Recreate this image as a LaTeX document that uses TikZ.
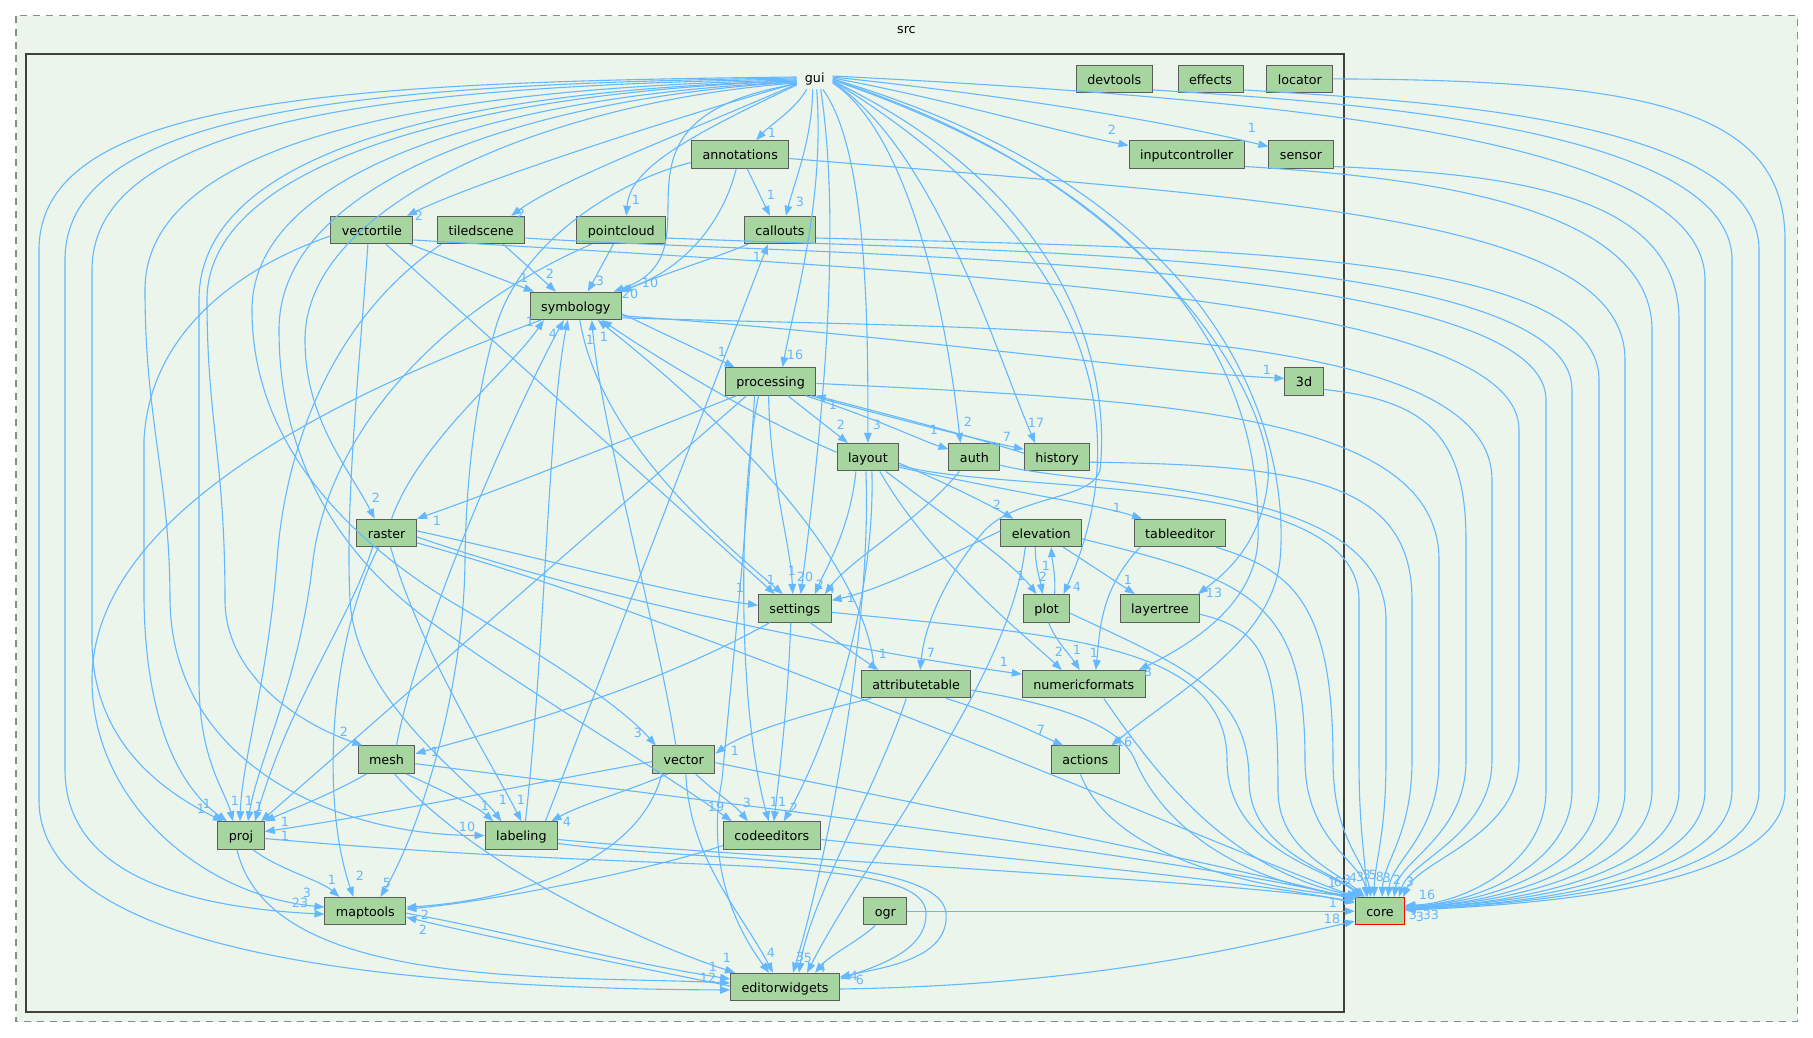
\documentclass[tikz,border=0pt]{standalone}
\usepackage{fontspec}
\setmainfont{DejaVu Sans}
\usetikzlibrary{arrows.meta}
\definecolor{edgec}{HTML}{63B8FF}
\definecolor{nodefill}{HTML}{A6D5A0}
\definecolor{clfill}{HTML}{ECF5EB}
\definecolor{nodeline}{HTML}{5C5C5C}
\definecolor{clline}{HTML}{404040}
\begin{document}
\begin{tikzpicture}[x=1pt,y=-1pt,
  box/.style={draw=nodeline, fill=nodefill, line width=1pt, minimum height=27.5pt, inner xsep=11pt, inner ysep=0pt, font=\fontsize{12.7pt}{15pt}\selectfont, text height=11.2pt, text depth=0.8pt},
  e/.style={draw=edgec, line width=1.1pt, -{Triangle[length=10pt,width=7.5pt]}},
  lbl/.style={text=edgec, font=\fontsize{12.7pt}{15pt}\selectfont, inner sep=0pt},
  plain/.style={font=\fontsize{12.7pt}{15pt}\selectfont, inner xsep=8pt, inner ysep=4pt}]
\useasboundingbox (0,0) rectangle (1813,1038);
% clusters
\draw[draw=gray!90, fill=clfill, line width=1.4pt, dash pattern=on 7pt off 6pt] (15.8,15.7) rectangle (1797.5,1021.7);
\node[plain] (srclabel) at (906.4,30) {src};
\draw[draw=clline, fill=clfill, line width=2pt] (26.1,54) rectangle (1343.9,1011.7);
% nodes
\node[plain] (gui) at (814.7,79) {gui};
\node[box] (devtools) at (1114.3,78.9) {devtools};
\node[box] (effects) at (1210.6,78.9) {effects};
\node[box] (locator) at (1299.9,78.9) {locator};
\node[box] (annotations) at (740.2,154.5) {annotations};
\node[box] (inputcontroller) at (1186.7,154.5) {inputcontroller};
\node[box] (sensor) at (1301,154.5) {sensor};
\node[box] (vectortile) at (371.9,230) {vectortile};
\node[box] (tiledscene) at (481.2,230) {tiledscene};
\node[box] (pointcloud) at (621.3,230) {pointcloud};
\node[box] (callouts) at (779.9,230) {callouts};
\node[box] (symbology) at (575.8,305.8) {symbology};
\node[box] (processing) at (770.6,381.4) {processing};
\node[box] (threed) at (1304,381.4) {3d};
\node[box] (layout) at (867.9,457.2) {layout};
\node[box] (auth) at (974.4,457.2) {auth};
\node[box] (history) at (1057.1,457.2) {history};
\node[box] (raster) at (386.6,532.9) {raster};
\node[box] (elevation) at (1041.3,532.9) {elevation};
\node[box] (tableeditor) at (1180,532.9) {tableeditor};
\node[box] (settings) at (794.8,608.3) {settings};
\node[box] (plot) at (1046.6,608.3) {plot};
\node[box] (layertree) at (1159.9,608.3) {layertree};
\node[box] (attributetable) at (916.2,684.2) {attributetable};
\node[box] (numericformats) at (1083.8,684.2) {numericformats};
\node[box] (mesh) at (386.5,759.7) {mesh};
\node[box] (vector) at (683.8,759.7) {vector};
\node[box] (actions) at (1085.3,759.7) {actions};
\node[box] (proj) at (241,835.5) {proj};
\node[box] (labeling) at (521.4,835.5) {labeling};
\node[box] (codeeditors) at (771.8,835.5) {codeeditors};
\node[box] (maptools) at (365.4,911.2) {maptools};
\node[box] (ogr) at (885.3,911.2) {ogr};
\node[box, draw=red] (core) at (1380,911.2) {core};
\node[box] (editorwidgets) at (785,987) {editorwidgets};

% ---------- gui: left lanes
\draw[e] ([yshift=2pt]gui.west) .. controls (330,82) and (39,100) .. (39,250) -- (39,800) .. controls (39,940) and (330,988) .. ([yshift=-3pt]editorwidgets.west);
\draw[e] ([yshift=1pt]gui.west) .. controls (360,84) and (65,110) .. (65,260) -- (65,770) .. controls (65,880) and (200,908) .. ([yshift=-3pt]maptools.west);
\draw[e] (gui.west) .. controls (390,86) and (92,120) .. (92,270) -- (92,640) .. controls (92,740) and (160,790) .. ([xshift=-18pt]proj.north);
\draw[e] ([yshift=-1pt]gui.west) .. controls (430,88) and (145,140) .. (145,290) .. controls (145,420) and (170,480) .. (170,600) .. controls (172,760) and (330,835) .. (labeling.west);
\draw[e] ([yshift=-2pt]gui.west) .. controls (460,90) and (199,150) .. (199,300) -- (199,680) .. controls (199,760) and (225,790) .. ([xshift=-8pt]proj.north);
\draw[e] ([yshift=-2pt]gui.west) .. controls (480,92) and (207,160) .. (207,300) .. controls (207,420) and (225,460) .. (225,600) .. controls (225,670) and (290,720) .. ([xshift=-24pt]mesh.north);
\draw[e] ([yshift=-3pt]gui.west) .. controls (500,95) and (252,170) .. (252,310) .. controls (252,430) and (330,530) .. (460,607) .. controls (550,660) and (620,705) .. ([xshift=-28pt]vector.north);
\draw[e] ([yshift=-3pt]gui.west) .. controls (530,98) and (279,180) .. (279,330) .. controls (279,470) and (350,565) .. (435,625) .. controls (540,700) and (660,770) .. ([xshift=-40pt]codeeditors.north);
\draw[e] ([yshift=-4pt]gui.west) .. controls (560,100) and (305,200) .. (305,340) .. controls (305,420) and (350,470) .. ([xshift=-12pt]raster.north);
% ---------- gui: direct
\draw[e] ([yshift=-4pt]gui.west) .. controls (650,125) and (470,185) .. ([xshift=35pt]vectortile.north);
\draw[e] ([yshift=-5pt]gui.west) .. controls (680,135) and (560,180) .. ([xshift=30pt]tiledscene.north);
\draw[e] ([yshift=-6pt]gui.west) .. controls (680,140) and (630,170) .. ([xshift=5pt]pointcloud.north);
\draw[e] ([xshift=-8pt]gui.south) .. controls (795,110) and (770,125) .. ([xshift=16pt]annotations.north);
\draw[e] ([xshift=-2pt]gui.south) .. controls (812,140) and (795,180) .. ([xshift=6pt]callouts.north);
\draw[e] ([yshift=-5pt]gui.west) .. controls (580,120) and (730,250) .. ([xshift=38pt]symbology.north);
\draw[e] ([xshift=2pt]gui.south) .. controls (825,200) and (795,300) .. ([xshift=12pt]processing.north);
\draw[e] ([xshift=6pt]gui.south) .. controls (845,250) and (815,480) .. ([xshift=6pt]settings.north);
\draw[e] ([xshift=8pt]gui.south) .. controls (868,150) and (868,330) .. (layout.north);
\draw[e] ([yshift=-4pt]gui.east) .. controls (905,130) and (945,300) .. ([xshift=-14pt]auth.north);
\draw[e] ([yshift=-3pt]gui.east) .. controls (935,150) and (995,350) .. ([xshift=-22pt]history.north);
\draw[e] ([yshift=-2pt]gui.east) .. controls (1060,220) and (1150,400) .. ([xshift=17pt]plot.north);
\draw[e] ([yshift=-1pt]gui.east) .. controls (1150,180) and (1275,400) .. (1268,480) .. controls (1262,540) and (1230,570) .. ([xshift=38pt]layertree.north);
\draw[e] ([yshift=-1pt]gui.east) .. controls (1180,200) and (1262,380) .. (1258,540) .. controls (1255,600) and (1200,640) .. ([xshift=55pt]numericformats.north);
\draw[e] (gui.east) .. controls (1240,200) and (1290,450) .. (1280,560) .. controls (1272,640) and (1180,690) .. ([xshift=26pt]actions.north);
\draw[e] ([yshift=-2pt]gui.east) .. controls (1080,200) and (1110,380) .. (1100,470) .. controls (1092,500) and (1020,495) .. (985,530) .. controls (950,570) and (925,620) .. ([xshift=4pt]attributetable.north);
\draw[e] ([yshift=1pt]gui.east) .. controls (950,100) and (1050,130) .. ([yshift=9pt]inputcontroller.west);
\draw[e] ([yshift=2pt]gui.east) .. controls (1000,95) and (1150,118) .. ([yshift=8pt]sensor.west);

% ---------- lanes to core (outside the gui cluster)
\draw[e] (locator.east) .. controls (1650,80) and (1785,110) .. (1785,240) -- (1785,790) .. controls (1785,885) and (1550,904) .. ([yshift=1pt]core.east);
\draw[e] ([yshift=-11pt]effects.east) .. controls (1400,100) and (1759,115) .. (1759,250) -- (1759,790) .. controls (1759,882) and (1540,904) .. ([yshift=2pt]core.east);
\draw[e] ([yshift=-11pt]devtools.east) .. controls (1300,100) and (1732,120) .. (1732,260) -- (1732,790) .. controls (1732,880) and (1530,904) .. ([yshift=2pt]core.east);
\draw[e] ([yshift=3pt]gui.east) .. controls (1300,100) and (1705,140) .. (1705,280) -- (1705,790) .. controls (1705,878) and (1520,904) .. ([yshift=3pt]core.east);
\draw[e] ([yshift=-12pt]sensor.east) .. controls (1500,174) and (1679,190) .. (1679,320) -- (1679,790) .. controls (1679,876) and (1510,904) .. ([yshift=3pt]core.east);
\draw[e] ([yshift=-12pt]inputcontroller.east) .. controls (1400,176) and (1652,200) .. (1652,330) -- (1652,790) .. controls (1652,874) and (1500,904) .. ([yshift=4pt]core.east);
\draw[e] ([yshift=-4pt]annotations.east) .. controls (1300,200) and (1625,220) .. (1625,360) -- (1625,790) .. controls (1625,872) and (1490,904) .. ([yshift=4pt]core.east);
\draw[e] ([yshift=-8pt]callouts.east) .. controls (1200,248) and (1599,250) .. (1599,380) -- (1599,790) .. controls (1599,870) and (1480,904) .. ([yshift=5pt]core.east);
\draw[e] ([yshift=-8pt]pointcloud.east) .. controls (1000,252) and (1572,252) .. (1572,390) -- (1572,790) .. controls (1572,868) and (1470,904) .. ([yshift=5pt]core.east);
\draw[e] ([yshift=-8pt]tiledscene.east) .. controls (800,256) and (1546,255) .. (1546,400) -- (1546,790) .. controls (1546,866) and (1460,904) .. ([yshift=6pt]core.east);
\draw[e] ([yshift=-10pt]vectortile.east) .. controls (1000,275) and (1519,300) .. (1519,430) -- (1519,760) .. controls (1519,835) and (1420,860) .. ([xshift=23pt]core.north);
\draw[e] ([yshift=-12pt]symbology.east) .. controls (1000,330) and (1492,320) .. (1492,480) -- (1492,760) .. controls (1492,835) and (1410,860) .. ([xshift=19pt]core.north);
\draw[e] ([yshift=-8pt]threed.east) .. controls (1420,400) and (1466,430) .. (1466,540) -- (1466,760) .. controls (1466,835) and (1400,860) .. ([xshift=14pt]core.north);
\draw[e] ([yshift=-2pt]processing.east) .. controls (1150,400) and (1439,410) .. (1439,560) -- (1439,760) .. controls (1439,835) and (1392,860) .. ([xshift=8pt]core.north);
\draw[e] ([yshift=-5pt]history.east) .. controls (1300,465) and (1412,480) .. (1412,600) -- (1412,760) .. controls (1412,835) and (1384,860) .. ([xshift=2pt]core.north);
\draw[e] ([yshift=-8pt]auth.east) .. controls (1100,490) and (1386,480) .. (1386,620) -- (1386,760) .. controls (1386,835) and (1375,860) .. ([xshift=-6pt]core.north);
\draw[e] ([yshift=-8pt]layout.east) .. controls (1000,495) and (1359,470) .. (1359,600) -- (1359,760) .. controls (1359,835) and (1366,860) .. ([xshift=-14pt]core.north);
% ---------- lanes to core (inside)
\draw[e] ([xshift=36pt]tableeditor.south) .. controls (1290,570) and (1333,600) .. (1333,760) .. controls (1333,840) and (1365,860) .. ([xshift=16pt]core.north west);
\draw[e] ([yshift=-6pt]elevation.east) .. controls (1250,580) and (1305,600) .. (1305,760) .. controls (1305,840) and (1360,860) .. ([xshift=13pt]core.north west);
\draw[e] ([yshift=-6pt]layertree.east) .. controls (1265,630) and (1278,660) .. (1278,790) .. controls (1278,850) and (1335,870) .. ([xshift=10pt]core.north west);
\draw[e] ([yshift=-5pt]plot.east) .. controls (1180,665) and (1249,690) .. (1249,780) .. controls (1249,850) and (1330,870) .. ([xshift=8pt]core.north west);
\draw[e] ([yshift=-4pt]settings.east) .. controls (1050,635) and (1227,640) .. (1227,760) .. controls (1227,850) and (1330,870) .. ([xshift=6pt]core.north west);
\draw[e] ([xshift=20pt]numericformats.south) .. controls (1160,780) and (1230,870) .. ([xshift=5pt]core.north west);
\draw[e] ([xshift=-5pt]actions.south) .. controls (1110,850) and (1230,885) .. ([xshift=3pt]core.north west);
\draw[e] ([yshift=-6pt]attributetable.east) .. controls (1060,705) and (1120,725) .. (1135,760) .. controls (1160,820) and (1230,880) .. ([xshift=4pt]core.north west);
\draw[e] ([yshift=-3pt]vector.east) .. controls (1000,820) and (1250,870) .. ([yshift=-3pt]core.north west);
\draw[e] ([yshift=-4pt]codeeditors.east) .. controls (1000,858) and (1250,880) .. ([yshift=-6pt]core.north west);
\draw[e] ([yshift=-4pt]labeling.east) .. controls (750,858) and (1250,882) .. ([yshift=-5pt]core.north west);
\draw[e] ([yshift=-4pt]mesh.east) .. controls (700,800) and (1200,860) .. ([yshift=-2pt]core.north west);
\draw[e] ([yshift=-10pt]raster.east) .. controls (700,620) and (1250,860) .. ([xshift=2pt]core.north west);
\draw[e] (ogr.east) -- (core.west);
\draw[e] ([yshift=-2pt]editorwidgets.east) .. controls (1100,985) and (1250,945) .. ([yshift=-10pt]core.west);

% ---------- annotations, callouts, pointcloud, tiledscene, vectortile
\draw[e] ([xshift=7pt]annotations.south) -- ([xshift=-10pt]callouts.north);
\draw[e] ([xshift=-4pt]annotations.south) .. controls (725,215) and (690,268) .. ([xshift=43pt]symbology.north);
\draw[e] ([yshift=-8pt]annotations.west) .. controls (620,180) and (520,240) .. (495,330) .. controls (475,400) and (466,480) .. (465,560) .. controls (464,690) and (420,830) .. ([xshift=15pt]maptools.north);
\draw[e] ([xshift=-32pt]callouts.south) .. controls (710,260) and (660,275) .. (symbology.north east);
\draw[e] ([xshift=-8pt]pointcloud.south) -- ([xshift=12pt]symbology.north);
\draw[e] ([xshift=-30pt]pointcloud.south) .. controls (440,310) and (330,430) .. (313,560) .. controls (300,680) and (258,760) .. ([xshift=7pt]proj.north);
\draw[e] ([xshift=22pt]tiledscene.south) -- ([xshift=-20pt]symbology.north);
\draw[e] ([xshift=-40pt]tiledscene.south) .. controls (330,320) and (285,450) .. (277,560) .. controls (268,680) and (242,760) .. ([xshift=-1pt]proj.north);
\draw[e] ([xshift=38pt]vectortile.south) -- ([xshift=-42pt]symbology.north);
\draw[e] ([yshift=-6pt]vectortile.west) .. controls (260,260) and (150,320) .. (144,440) -- (144,600) .. controls (146,740) and (190,795) .. ([xshift=-14pt]proj.north);
\draw[e] ([xshift=-4pt]vectortile.south) .. controls (360,360) and (345,500) .. (350,600) .. controls (355,700) and (470,780) .. ([xshift=-20pt]labeling.north);
\draw[e] ([xshift=14pt]vectortile.south) -- ([xshift=-20pt]settings.north);

% ---------- symbology
\draw[e] ([yshift=-8pt]symbology.east) -- ([xshift=-36pt]processing.north);
\draw[e] ([yshift=-10pt]symbology.east) .. controls (900,335) and (1150,372) .. ([yshift=3pt]threed.west);
\draw[e] ([xshift=-35pt]symbology.south) .. controls (380,380) and (92,500) .. (92,680) .. controls (92,800) and (200,895) .. ([yshift=4pt]maptools.west);
\draw[e] ([xshift=4pt]symbology.south) .. controls (600,440) and (720,540) .. ([xshift=-12pt]settings.north);

% ---------- processing
\draw[e] ([xshift=-34pt]processing.south) .. controls (650,430) and (500,490) .. (raster.north east);
\draw[e] ([xshift=17pt]processing.south) -- ([xshift=-20pt]layout.north);
\draw[e] ([xshift=35pt]processing.south) .. controls (880,420) and (920,440) .. ([yshift=8pt]auth.west);
\draw[e] ([xshift=40pt]processing.south) .. controls (900,420) and (980,440) .. ([yshift=8pt]history.west);
\draw[e] ([yshift=4pt]history.west) .. controls (950,430) and (870,410) .. ([xshift=45pt]processing.south);
\draw[e] ([xshift=-2pt]processing.south) .. controls (770,480) and (790,540) .. ([xshift=-2pt]settings.north);
\draw[e] ([xshift=-12pt]processing.south) .. controls (740,480) and (735,700) .. ([xshift=-3pt]codeeditors.north);
\draw[e] ([xshift=-16pt]processing.south) .. controls (745,550) and (735,640) .. (722,780) .. controls (712,830) and (715,900) .. ([xshift=-16pt]editorwidgets.north);
\draw[e] ([xshift=-24pt]processing.south) -- ([xshift=20pt]proj.north);

% ---------- raster
\draw[e] ([xshift=5pt]raster.north) .. controls (420,440) and (510,370) .. ([xshift=-32pt]symbology.south);
\draw[e] ([yshift=2pt]raster.east) .. controls (550,560) and (680,595) .. ([yshift=3pt]settings.west);
\draw[e] ([yshift=-4pt]raster.east) .. controls (600,600) and (850,650) .. ([yshift=10pt]numericformats.west);
\draw[e] ([xshift=-14pt]raster.south) .. controls (350,620) and (290,700) .. ([xshift=14pt]proj.north);
\draw[e] ([xshift=-8pt]raster.south) .. controls (330,640) and (320,800) .. ([xshift=-12pt]maptools.north);
\draw[e] ([xshift=4pt]raster.south) .. controls (420,650) and (490,760) .. ([xshift=0pt]labeling.north);

% ---------- layout, auth, history, elevation, tableeditor, plot
\draw[e] ([yshift=5pt]layout.west) .. controls (760,420) and (660,360) .. ([xshift=26pt]symbology.south);
\draw[e] ([xshift=-12pt]layout.south) .. controls (850,530) and (825,570) .. ([xshift=20pt]settings.north);
\draw[e] ([yshift=-6pt]layout.east) .. controls (950,485) and (990,505) .. ([xshift=-28pt]elevation.north);
\draw[e] ([yshift=-10pt]layout.east) .. controls (1000,490) and (1100,505) .. ([xshift=-38pt]tableeditor.north);
\draw[e] ([xshift=18pt]layout.south) .. controls (950,520) and (1010,560) .. ([xshift=-10pt]plot.north);
\draw[e] ([xshift=12pt]layout.south) .. controls (930,560) and (1030,640) .. ([xshift=-22pt]numericformats.north);
\draw[e] ([xshift=4pt]layout.south) .. controls (875,580) and (840,720) .. ([xshift=12pt]codeeditors.north);
\draw[e] ([xshift=-2pt]layout.south) .. controls (872,620) and (830,850) .. ([xshift=8pt]editorwidgets.north);
\draw[e] ([xshift=-15pt]auth.south) .. controls (920,520) and (850,560) .. ([xshift=30pt]settings.north);
\draw[e] ([yshift=2pt]elevation.west) .. controls (950,555) and (880,590) .. ([yshift=8pt]settings.east);
\draw[e] ([xshift=-6pt]elevation.south) .. controls (1035,565) and (1040,580) .. ([xshift=-4pt]plot.north);
\draw[e] ([xshift=8pt]plot.north) .. controls (1056,575) and (1052,560) .. ([xshift=10pt]elevation.south);
\draw[e] ([xshift=22pt]elevation.south) -- ([xshift=-25pt]layertree.north);
\draw[e] ([xshift=-16pt]elevation.south) .. controls (1010,680) and (870,850) .. ([xshift=22pt]editorwidgets.north);
\draw[e] ([xshift=-40pt]tableeditor.south) .. controls (1100,590) and (1100,630) .. ([xshift=12pt]numericformats.north);
\draw[e] ([xshift=2pt]plot.south) .. controls (1055,640) and (1070,655) .. ([xshift=-4pt]numericformats.north);

% ---------- settings, attributetable
\draw[e] ([xshift=-25pt]settings.south) .. controls (650,690) and (500,730) .. ([yshift=6pt]mesh.east);
\draw[e] ([xshift=15pt]settings.south) -- ([xshift=-38pt]attributetable.north);
\draw[e] ([xshift=-4pt]settings.south) .. controls (788,700) and (780,770) .. ([xshift=2pt]codeeditors.north);
\draw[e] ([xshift=-45pt]attributetable.south) .. controls (800,715) and (740,735) .. ([yshift=6pt]vector.east);
\draw[e] ([xshift=30pt]attributetable.south) .. controls (1000,715) and (1040,735) .. ([xshift=-22pt]actions.north);
\draw[e] ([xshift=-10pt]attributetable.south) .. controls (880,780) and (810,900) .. ([xshift=14pt]editorwidgets.north);
\draw[e] ([xshift=-42pt]attributetable.north) .. controls (870,600) and (800,480) .. ([xshift=22pt]symbology.south);

% ---------- vector, mesh, labeling, proj, codeeditors
\draw[e] ([xshift=-8pt]vector.north) .. controls (660,640) and (600,420) .. ([xshift=16pt]symbology.south);
\draw[e] ([yshift=-2pt]vector.west) .. controls (550,780) and (380,815) .. ([yshift=4pt]proj.east);
\draw[e] ([xshift=-16pt]vector.south) .. controls (630,790) and (580,805) .. ([xshift=30pt]labeling.north);
\draw[e] ([xshift=12pt]vector.south) .. controls (712,790) and (735,805) .. ([xshift=-24pt]codeeditors.north);
\draw[e] ([xshift=2pt]vector.south) .. controls (690,860) and (740,910) .. ([xshift=-12pt]editorwidgets.north);
\draw[e] ([xshift=-22pt]vector.south) .. controls (640,860) and (520,900) .. ([yshift=4pt]maptools.east);
\draw[e] ([yshift=-10pt]codeeditors.west) .. controls (650,870) and (500,900) .. ([yshift=2pt]maptools.east);
\draw[e] ([xshift=-20pt]mesh.south) .. controls (330,795) and (290,810) .. (proj.north east);
\draw[e] ([xshift=20pt]mesh.south) .. controls (440,790) and (475,805) .. ([xshift=-28pt]labeling.north);
\draw[e] ([xshift=8pt]mesh.south) .. controls (480,870) and (650,945) .. ([xshift=-50pt]editorwidgets.north);
\draw[e] ([xshift=10pt]mesh.north) .. controls (420,620) and (520,400) .. ([xshift=-12pt]symbology.south);
\draw[e] ([xshift=4pt]labeling.north) .. controls (545,650) and (548,420) .. ([xshift=-8pt]symbology.south);
\draw[e] ([xshift=24pt]labeling.north) -- ([xshift=-12pt]callouts.south);
\draw[e] ([yshift=-8pt]labeling.east) .. controls (700,862) and (940,855) .. (946,913) .. controls (950,960) and (880,968) .. ([yshift=10pt]editorwidgets.east);
\draw[e] ([yshift=-3pt]proj.east) .. controls (450,855) and (600,860) .. (700,864) .. controls (850,870) and (925,880) .. (926,913) .. controls (927,950) and (880,965) .. ([yshift=8pt]editorwidgets.east);
\draw[e] ([xshift=12pt]proj.south) .. controls (280,870) and (320,880) .. ([xshift=-26pt]maptools.north);
\draw[e] ([xshift=-4pt]proj.south) .. controls (270,990) and (550,975) .. ([yshift=4pt]editorwidgets.west);

% ---------- maptools, ogr, editorwidgets
\draw[e] ([yshift=1pt]editorwidgets.west) .. controls (600,960) and (480,935) .. ([yshift=-6pt]maptools.east);
\draw[e] ([yshift=-2pt]maptools.east) .. controls (500,930) and (620,962) .. ([yshift=8pt]editorwidgets.west);
\draw[e] ([xshift=-10pt]ogr.south) .. controls (860,940) and (830,955) .. ([xshift=30pt]editorwidgets.north);

% ---------- edge labels
\foreach \lx/\ly/\lt [count=\i] in {
 708/978/12, 300/903/23, 201/809/1, 467/827/10, 235/801/1, 344/732/2, 638/733/3, 716/807/19, 376/498/2,
 419/216/2, 521/214/2, 636/200/1, 772/133/1, 800/202/3, 630/294/20, 650/283/10, 795/355/16, 805/577/20,
 877/425/3, 968/422/2, 1036/423/17, 1077/587/4, 1214/593/13, 1148/672/8, 1124/742/16, 931/653/7,
 1112/130/2, 1252/128/1,
 771/195/1, 387/883/5, 600/281/3, 550/274/2, 524/278/1, 207/804/1, 503/800/1, 771/580/1,
 722/352/1, 1267/370/1, 307/893/3, 437/521/1, 841/425/2, 934/430/1, 1007/437/7, 833/405/1, 792/571/1,
 778/802/11, 259/807/1, 249/801/1, 530/322/1, 740/588/1, 1004/662/1, 360/876/2, 521/800/1,
 553/334/4, 590/340/1, 604/337/1, 820/585/2, 997/505/2, 1117/508/1, 1021/576/1, 1059/652/2, 794/808/2,
 800/957/3, 831/589/4, 851/598/1, 1043/577/2, 1046/566/1, 1128/580/1, 1094/653/1, 1077/650/1,
 435/752/1, 883/654/1, 735/751/1, 1041/730/7, 808/958/5, 567/822/4, 747/803/3, 771/953/4, 425/915/2,
 727/958/1, 332/880/1, 757/257/1, 860/980/6, 854/976/4, 822/968/4, 285/822/1, 285/836/1, 485/806/1,
 1333/903/1, 1332/919/18, 423/930/2, 713/967/1,
 1332/883/1, 1338/882/6, 1347/880/3, 1353/878/4, 1360/877/3, 1367/875/3, 1373/875/5, 1380/877/8,
 1387/878/3, 1397/880/2, 1410/882/3, 1427/895/16, 1413/915/3, 1420/917/3, 1427/915/3, 1435/915/3}
 \node[lbl] (lab\i) at (\lx,\ly) {\lt};
\end{tikzpicture}
\end{document}
